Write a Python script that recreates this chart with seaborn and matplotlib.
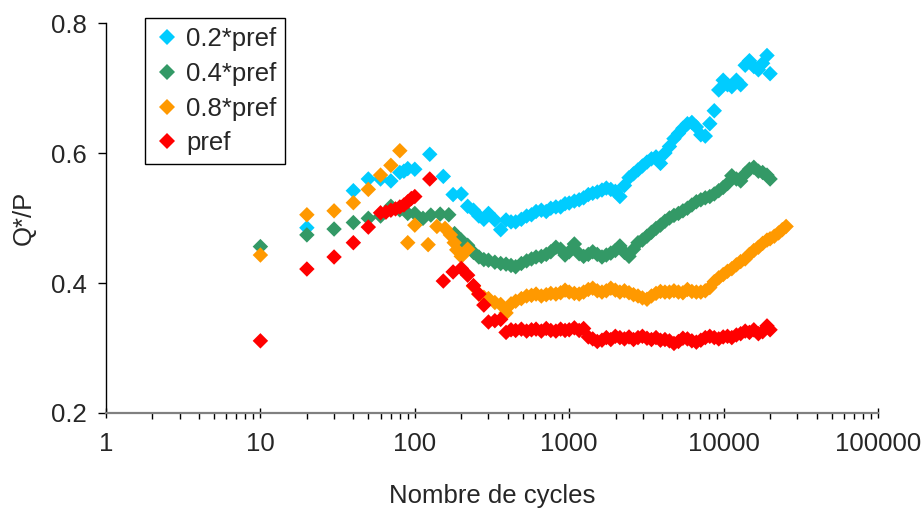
import numpy as np
import pandas as pd
import matplotlib
matplotlib.use("Agg")
import matplotlib.pyplot as plt
import seaborn as sns
from matplotlib.ticker import LogLocator, FixedLocator, NullFormatter, FuncFormatter

# ---------------- data ----------------
series_names = ["0.2*pref", "0.4*pref", "0.8*pref", "pref"]
colors = ["#00CCFF", "#339966", "#FF9900", "#FF0000"]

dense_cycles = [200, 220, 240, 260, 280, 300, 330, 360, 390, 420, 450, 490, 530, 570,
                610, 660, 710, 760, 820, 880, 940, 1000, 1080, 1160, 1240, 1330, 1420,
                1520, 1630, 1740, 1860, 1990, 2130, 2280, 2440, 2610, 2790, 2980, 3190,
                3410, 3650, 3900, 4170, 4460, 4770, 5100, 5450, 5830, 6230, 6660, 7120,
                7610, 8140, 8700, 9300, 9940, 10600, 11300, 12100, 12900, 13800, 14700,
                15700, 16800, 17900, 19100, 20000]

# 0.2*pref
cyan_early_cycles = [20, 40, 50, 60, 70, 80, 85, 90, 100, 125, 153, 177]
cyan_early = [0.485, 0.542, 0.560, 0.560, 0.557, 0.570, 0.572, 0.576, 0.575, 0.598, 0.564, 0.536]
cyan_dense = [0.537, 0.518, 0.512, 0.503, 0.498, 0.507, 0.497, 0.482, 0.497, 0.494, 0.494,
              0.498, 0.503, 0.505, 0.510, 0.512, 0.510, 0.515, 0.517, 0.517, 0.522, 0.523,
              0.526, 0.528, 0.531, 0.536, 0.538, 0.540, 0.543, 0.546, 0.544, 0.541, 0.533,
              0.550, 0.562, 0.568, 0.574, 0.580, 0.586, 0.591, 0.594, 0.584, 0.600, 0.610,
              0.622, 0.630, 0.638, 0.645, 0.647, 0.640, 0.628, 0.626, 0.645, 0.665, 0.697,
              0.712, 0.705, 0.702, 0.712, 0.705, 0.735, 0.742, 0.733, 0.728, 0.738, 0.750,
              0.722]

# 0.4*pref
green_early_cycles = [10, 20, 30, 40, 50, 60, 70, 80, 90, 100, 113, 127, 146, 166, 181, 190]
green_early = [0.456, 0.474, 0.483, 0.493, 0.4995, 0.503, 0.518, 0.5125, 0.507, 0.507,
               0.4995, 0.5045, 0.506, 0.505, 0.476, 0.470]
green_dense = [0.466, 0.458, 0.447, 0.440, 0.436, 0.435, 0.432, 0.430, 0.429, 0.427, 0.425,
               0.430, 0.434, 0.437, 0.440, 0.441, 0.444, 0.448, 0.455, 0.452, 0.443, 0.448,
               0.460, 0.445, 0.441, 0.444, 0.448, 0.444, 0.440, 0.443, 0.446, 0.450, 0.457,
               0.447, 0.441, 0.452, 0.462, 0.466, 0.472, 0.478, 0.484, 0.489, 0.495, 0.500,
               0.504, 0.507, 0.511, 0.515, 0.520, 0.525, 0.528, 0.531, 0.533, 0.537, 0.542,
               0.547, 0.553, 0.565, 0.560, 0.557, 0.568, 0.575, 0.578, 0.572, 0.570, 0.566,
               0.560]

# 0.8*pref
orange_early_cycles = [10, 20, 30, 40, 50, 60, 70, 80, 90, 100, 122, 139, 157, 170, 180, 187]
orange_early = [0.443, 0.505, 0.511, 0.5235, 0.544, 0.566, 0.581, 0.6035, 0.462, 0.489,
                0.459, 0.487, 0.484, 0.474, 0.462, 0.451]
orange_dense = [0.441, 0.452, 0.395, 0.383, 0.378, 0.376, 0.370, 0.367, 0.354, 0.368, 0.372,
                0.376, 0.380, 0.381, 0.383, 0.380, 0.382, 0.384, 0.383, 0.385, 0.389, 0.386,
                0.384, 0.383, 0.386, 0.390, 0.392, 0.388, 0.386, 0.388, 0.392, 0.389, 0.386,
                0.388, 0.385, 0.382, 0.380, 0.377, 0.375, 0.380, 0.384, 0.387, 0.386, 0.386,
                0.388, 0.386, 0.385, 0.390, 0.387, 0.386, 0.386, 0.388, 0.393, 0.402, 0.408,
                0.413, 0.418, 0.422, 0.428, 0.433, 0.437, 0.444, 0.450, 0.455, 0.461, 0.466,
                0.468]
orange_late_cycles = [21300, 22700, 24000, 25400]
orange_late = [0.472, 0.477, 0.482, 0.487]

# pref
red_early_cycles = [10, 20, 30, 40, 50, 60, 65, 70, 75, 80, 85, 90, 95, 100, 125, 153, 177]
red_early = [0.311, 0.4215, 0.440, 0.462, 0.486, 0.508, 0.509, 0.512, 0.514, 0.517, 0.520,
             0.525, 0.530, 0.533, 0.560, 0.403, 0.417]
red_dense = [0.4225, 0.412, 0.396, 0.383, 0.366, 0.340, 0.342, 0.344, 0.324, 0.328, 0.327,
             0.329, 0.326, 0.328, 0.329, 0.326, 0.330, 0.327, 0.326, 0.329, 0.327, 0.328,
             0.331, 0.327, 0.330, 0.317, 0.314, 0.310, 0.312, 0.316, 0.313, 0.318, 0.316,
             0.314, 0.317, 0.313, 0.316, 0.318, 0.315, 0.313, 0.316, 0.312, 0.313, 0.311,
             0.307, 0.310, 0.315, 0.314, 0.311, 0.309, 0.312, 0.316, 0.318, 0.316, 0.314,
             0.317, 0.318, 0.316, 0.320, 0.322, 0.326, 0.324, 0.328, 0.322, 0.325, 0.334,
             0.328]

x_ticks = [1, 10, 100, 1000, 10000, 100000]
y_ticks = [0.2, 0.4, 0.6, 0.8]

# ---------------- build long table ----------------
frames = []
parts = [
    (series_names[0], cyan_early_cycles + dense_cycles, cyan_early + cyan_dense),
    (series_names[1], green_early_cycles + dense_cycles, green_early + green_dense),
    (series_names[2], orange_early_cycles + dense_cycles + orange_late_cycles,
     orange_early + orange_dense + orange_late),
    (series_names[3], red_early_cycles + dense_cycles, red_early + red_dense),
]
for name, xs, ys in parts:
    frames.append(pd.DataFrame({"cycles": xs, "qp": ys, "series": name}))
df = pd.concat(frames, ignore_index=True)

# ---------------- plot ----------------
sns.set_theme(style="white")
plt.rcParams["font.family"] = ["Liberation Sans", "DejaVu Sans"]
FS = 18.5

fig = plt.figure(figsize=(9.23, 5.13), dpi=100)
ax = fig.add_axes([106 / 923, 1 - 413 / 513, 772 / 923, 390 / 513])

sns.scatterplot(data=df, x="cycles", y="qp", hue="series", hue_order=series_names,
                palette=colors, marker="D", s=62, linewidth=0, ax=ax)

ax.set_xscale("log")
ax.set_xlim(1, 100000)
ax.set_ylim(0.2, 0.8)
ax.xaxis.set_major_locator(FixedLocator(x_ticks))
ax.xaxis.set_major_formatter(FuncFormatter(lambda v, p: f"{int(round(v))}"))
ax.xaxis.set_minor_locator(LogLocator(base=10, subs=np.arange(2, 10), numticks=20))
ax.xaxis.set_minor_formatter(NullFormatter())
ax.yaxis.set_major_locator(FixedLocator(y_ticks))
ax.yaxis.set_major_formatter(FuncFormatter(lambda v, p: f"{v:.1f}"))

for side in ["top", "right"]:
    ax.spines[side].set_visible(False)
ax.spines["left"].set_color("black")
ax.spines["left"].set_linewidth(1.0)
ax.spines["bottom"].set_color("#808080")
ax.spines["bottom"].set_linewidth(1.6)

ax.tick_params(axis="y", which="major", direction="out", length=6, width=1,
               color="black", labelsize=FS, pad=8, left=True)
ax.tick_params(axis="x", which="major", direction="inout", length=7, width=1,
               color="black", labelsize=FS, pad=10, bottom=True)
ax.tick_params(axis="x", which="minor", direction="out", length=4, width=1,
               color="black", bottom=True)

ax.set_xlabel("Nombre de cycles", fontsize=FS, labelpad=20)
ax.set_ylabel("Q*/P", fontsize=FS, labelpad=11)

sns.move_legend(ax, "upper left", bbox_to_anchor=(145 / 923, 1 - 18 / 513),
                bbox_transform=fig.transFigure, title=None, frameon=True,
                fontsize=FS, fancybox=False, edgecolor="black", framealpha=1,
                borderaxespad=0, handletextpad=0.25, handlelength=1.0,
                labelspacing=0.42, borderpad=0.35, markerscale=1.0)
leg = ax.get_legend()
leg.get_frame().set_linewidth(1.0)

fig.savefig("out.png", dpi=100)
